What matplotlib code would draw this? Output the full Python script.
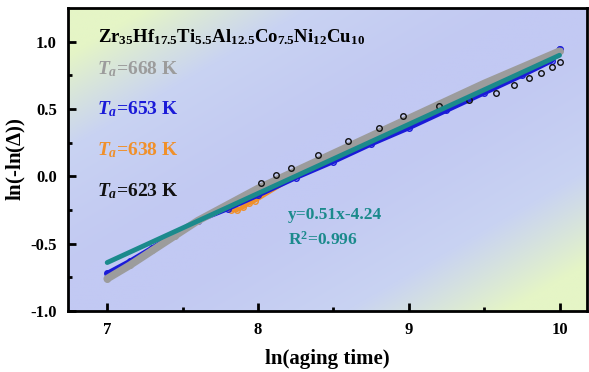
''' ln(-ln(delta)) vs ln(aging time) for the Zr-based glass '''

import numpy as np
import matplotlib
matplotlib.use('Agg')
from matplotlib import pyplot as plt
from matplotlib.colors import LinearSegmentedColormap

plt.rcParams['font.family'] = 'Liberation Serif'
plt.rcParams['font.weight'] = 'bold'
plt.rcParams['axes.labelweight'] = 'bold'
plt.rcParams['mathtext.fontset'] = 'custom'
plt.rcParams['mathtext.rm'] = 'Liberation Serif:bold'
plt.rcParams['mathtext.it'] = 'Liberation Serif:bold:italic'
plt.rcParams['mathtext.bf'] = 'Liberation Serif:bold'

# data
x_668 = [7.00, 7.15, 7.30, 7.45, 7.60, 7.80, 8.00, 8.25, 8.50, 8.75, 9.00, 9.25, 9.50, 9.75, 10.00]
y_668 = [-0.76, -0.66, -0.55, -0.44, -0.33, -0.21, -0.09, 0.04, 0.17, 0.30, 0.43, 0.56, 0.69, 0.81, 0.93]

x_653 = [7.00, 7.15, 7.30, 7.45, 7.60, 7.80, 8.00, 8.25, 8.50, 8.75, 9.00, 9.25, 9.50, 9.75, 9.95, 10.00]
y_653 = [-0.72, -0.63, -0.53, -0.43, -0.33, -0.24, -0.14, -0.01, 0.11, 0.24, 0.36, 0.49, 0.62, 0.75, 0.86, 0.95]

x_638 = [7.82, 7.86, 7.90, 7.94, 7.98, 8.45, 8.50]
y_638 = [-0.25, -0.25, -0.23, -0.20, -0.18, 0.14, 0.16]

x_623 = [8.02, 8.12, 8.22, 8.40, 8.60, 8.80, 8.96, 9.20, 9.40, 9.58, 9.70, 9.80, 9.88, 9.95, 10.00]
y_623 = [-0.05, 0.01, 0.06, 0.16, 0.26, 0.36, 0.45, 0.52, 0.57, 0.62, 0.68, 0.73, 0.77, 0.81, 0.85]

fit_x = [7.0, 10.0]
fit_y = [-0.64, 0.90]

series = [
	(x_638, y_638, '#f0902a', 3),
	(x_653, y_653, '#1a1ad8', 3.5),
	(x_668, y_668, '#9c9c9c', 5.5),
	(x_623, y_623, '#111111', 0),
]
labels = [('668', '#9c9c9c'), ('653', '#1a1ad8'), ('638', '#f0902a'), ('623', '#111111')]
teal = '#1b8a8c'

fig = plt.figure(figsize=(5.89, 3.72), dpi=100)
ax = fig.add_axes([0.1155, 0.164, 0.8805, 0.814])
ax.set_xlim(6.74, 10.18)
ax.set_ylim(-1.0, 1.25)

# background: blue in the middle, yellow-green in two corners
cmap = LinearSegmentedColormap.from_list('bg', ['#c2c9f3', '#c9d3f2', '#e5f5c6'])
gx, gy = np.meshgrid(np.linspace(0, 1, 300), np.linspace(1, 0, 200))
d = np.abs(gx - gy)
t = np.clip((d - 0.1) / 0.75, 0, 1) ** 1.3
ax.imshow(t, cmap=cmap, extent=[0, 1, 0, 1], transform=ax.transAxes,
	aspect='auto', zorder=0, vmin=0, vmax=1, interpolation='bilinear')

for i, (xs, ys, c, w) in enumerate(series):
	if w:
		ax.plot(xs, ys, '-', color=c, lw=w, solid_capstyle='round', zorder=2 + i)
	ax.plot(xs, ys, 'o', mfc='none', mec=c, ms=4, mew=1.0, zorder=2 + i)

ax.plot(fit_x, fit_y, '-', color=teal, lw=3.5, solid_capstyle='round', zorder=7)

ax.text(0.058, 0.905, r'$\mathrm{Zr_{35}Hf_{17.5}Ti_{5.5}Al_{12.5}Co_{7.5}Ni_{12}Cu_{10}}$',
	transform=ax.transAxes, fontsize=13.5, va='center', ha='left')
for i, (temp, c) in enumerate(labels):
	ax.text(0.055, 0.80 - i * 0.135, r'$T_a$=' + temp + ' K', color=c,
		transform=ax.transAxes, fontsize=14, va='center', ha='left')

ax.text(8.2, -0.29, 'y=0.51x-4.24', color=teal, fontsize=12.5, va='center')
ax.text(8.2, -0.47, r'R$^2$=0.996', color=teal, fontsize=12.5, va='center')

ax.set_xticks([7, 8, 9, 10])
ax.set_xticks([7.5, 8.5, 9.5], minor=True)
ax.set_yticks([-1.0, -0.5, 0.0, 0.5, 1.0])
ax.set_yticks([-0.75, -0.25, 0.25, 0.75], minor=True)
ax.set_yticklabels(['-1.0', '-0.5', '0.0', '0.5', '1.0'])
ax.tick_params(which='major', direction='in', length=6, width=2, labelsize=12, pad=8)
ax.tick_params(which='minor', direction='in', length=3, width=2)
for s in ax.spines.values():
	s.set_linewidth(2)

ax.set_xlabel('ln(aging time)', fontsize=15, labelpad=8)
ax.set_ylabel(r'ln(-ln($\Delta$))', fontsize=15, labelpad=2)

fig.savefig('out.png', dpi=100)
